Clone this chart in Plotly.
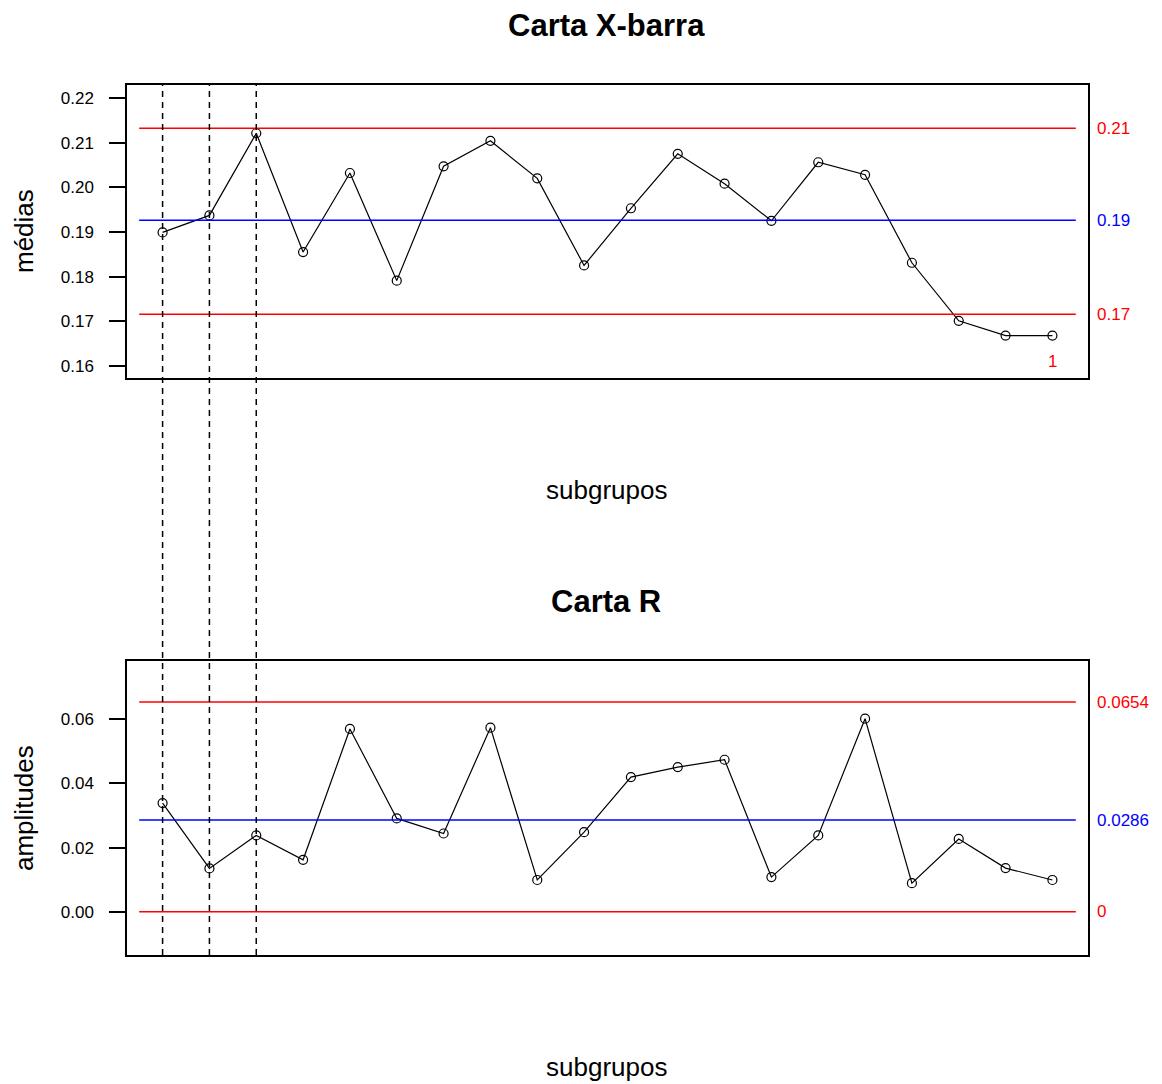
import plotly.graph_objects as go

# ---- data ----
subgroups = list(range(1, 21))
means = [0.1899, 0.1937, 0.2121, 0.1855, 0.2032, 0.1791, 0.2047, 0.2104, 0.2020, 0.1825,
         0.1953, 0.2075, 0.2008, 0.1925, 0.2056, 0.2028, 0.1831, 0.1701, 0.1668, 0.1668]
ranges = [0.0339, 0.0135, 0.0238, 0.0162, 0.0570, 0.0291, 0.0244, 0.0574, 0.0099, 0.0248,
          0.0420, 0.0451, 0.0474, 0.0108, 0.0238, 0.0602, 0.0089, 0.0227, 0.0136, 0.0099]
xbar_limits = {"LCL": 0.1716, "CL": 0.1926, "UCL": 0.2132}
r_limits = {"LCL": 0.0, "CL": 0.0286, "UCL": 0.0654}
xbar_labels = {"LCL": "0.17", "CL": "0.19", "UCL": "0.21"}
r_labels = {"LCL": "0", "CL": "0.0286", "UCL": "0.0654"}
marked_subgroups = [1, 2, 3]
flag_subgroup = 20
flag_label = "1"
xbar_ticks = [0.16, 0.17, 0.18, 0.19, 0.20, 0.21, 0.22]
r_ticks = [0.00, 0.02, 0.04, 0.06]

# page body has an 8px margin; work in reference pixel coords minus that offset
OFF = 8
W, H = 1162 - OFF, 1084 - OFF
FONT = "Liberation Sans, Arial, sans-serif"

def px(xp):
    return (xp - OFF) / W

def py(yp):
    return 1 - (yp - OFF) / H

fig = go.Figure()

line_colors = {"LCL": "red", "CL": "blue", "UCL": "red"}
marker_style = dict(symbol="circle-open", size=9, color="black", line=dict(width=1.2))

fig.add_trace(go.Scatter(x=subgroups, y=means, mode="lines+markers",
                         line=dict(color="black", width=1.2), marker=marker_style,
                         xaxis="x", yaxis="y", showlegend=False))
fig.add_trace(go.Scatter(x=subgroups, y=ranges, mode="lines+markers",
                         line=dict(color="black", width=1.2), marker=marker_style,
                         xaxis="x2", yaxis="y2", showlegend=False))

shapes = []
annotations = []
for key, val in xbar_limits.items():
    shapes.append(dict(type="line", xref="x", yref="y", x0=0.5, x1=20.5, y0=val, y1=val,
                       line=dict(color=line_colors[key], width=1.5)))
    annotations.append(dict(xref="paper", yref="y", x=px(1095), y=val, text=xbar_labels[key],
                            showarrow=False, xanchor="left", yanchor="middle",
                            font=dict(family=FONT, size=17, color=line_colors[key])))
for key, val in r_limits.items():
    shapes.append(dict(type="line", xref="x2", yref="y2", x0=0.5, x1=20.5, y0=val, y1=val,
                       line=dict(color=line_colors[key], width=1.5)))
    annotations.append(dict(xref="paper", yref="y2", x=px(1095), y=val, text=r_labels[key],
                            showarrow=False, xanchor="left", yanchor="middle",
                            font=dict(family=FONT, size=17, color=line_colors[key])))

for s in marked_subgroups:
    shapes.append(dict(type="line", xref="x", yref="paper", x0=s, x1=s,
                       y0=py(955), y1=py(85), line=dict(color="black", width=1.5, dash="6px,5px")))

annotations.append(dict(xref="x", yref="y", x=flag_subgroup, y=means[flag_subgroup - 1],
                        text=flag_label, showarrow=False, yshift=-26,
                        xanchor="center", yanchor="middle",
                        font=dict(family=FONT, size=17, color="red")))

def text_ann(x, y, text, size, angle=0):
    return dict(xref="paper", yref="paper", x=px(x), y=py(y), text=text, textangle=angle,
                showarrow=False, xanchor="center", yanchor="middle",
                font=dict(family=FONT, size=size, color="black"))

annotations += [
    text_ann(606, 25, "<b>Carta X-barra</b>", 31),
    text_ann(606, 601, "<b>Carta R</b>", 31),
    text_ann(607, 490, "subgrupos", 26),
    text_ann(607, 1067, "subgrupos", 26),
    text_ann(24, 231, "médias", 26, -90),
    text_ann(24, 808, "amplitudes", 26, -90),
]

xrange = [0.24, 20.76]
axis_common = dict(showgrid=False, zeroline=False, showline=True, mirror=True,
                   linecolor="black", linewidth=1.5)
ytick_common = dict(ticks="outside", ticklen=16, tickwidth=1.5, tickcolor="black",
                    ticklabelstandoff=12,
                    tickfont=dict(family=FONT, size=17, color="black"))
fig.update_layout(
    width=W, height=H,
    margin=dict(l=0, r=0, t=0, b=0),
    paper_bgcolor="white", plot_bgcolor="white",
    xaxis=dict(domain=[px(127), px(1088)], range=xrange, showticklabels=False, ticks="",
               anchor="y", **axis_common),
    yaxis=dict(domain=[py(378), py(85)], range=[0.1573, 0.2229], tickvals=xbar_ticks,
               ticktext=[f"{v:.2f}" for v in xbar_ticks], anchor="x",
               **ytick_common, **axis_common),
    xaxis2=dict(domain=[px(127), px(1088)], range=xrange, showticklabels=False, ticks="",
                anchor="y2", **axis_common),
    yaxis2=dict(domain=[py(955), py(661)], range=[-0.0135, 0.0782], tickvals=r_ticks,
                ticktext=[f"{v:.2f}" for v in r_ticks], anchor="x2",
                **ytick_common, **axis_common),
    shapes=shapes,
    annotations=annotations,
)

fig.write_html("out.html")
